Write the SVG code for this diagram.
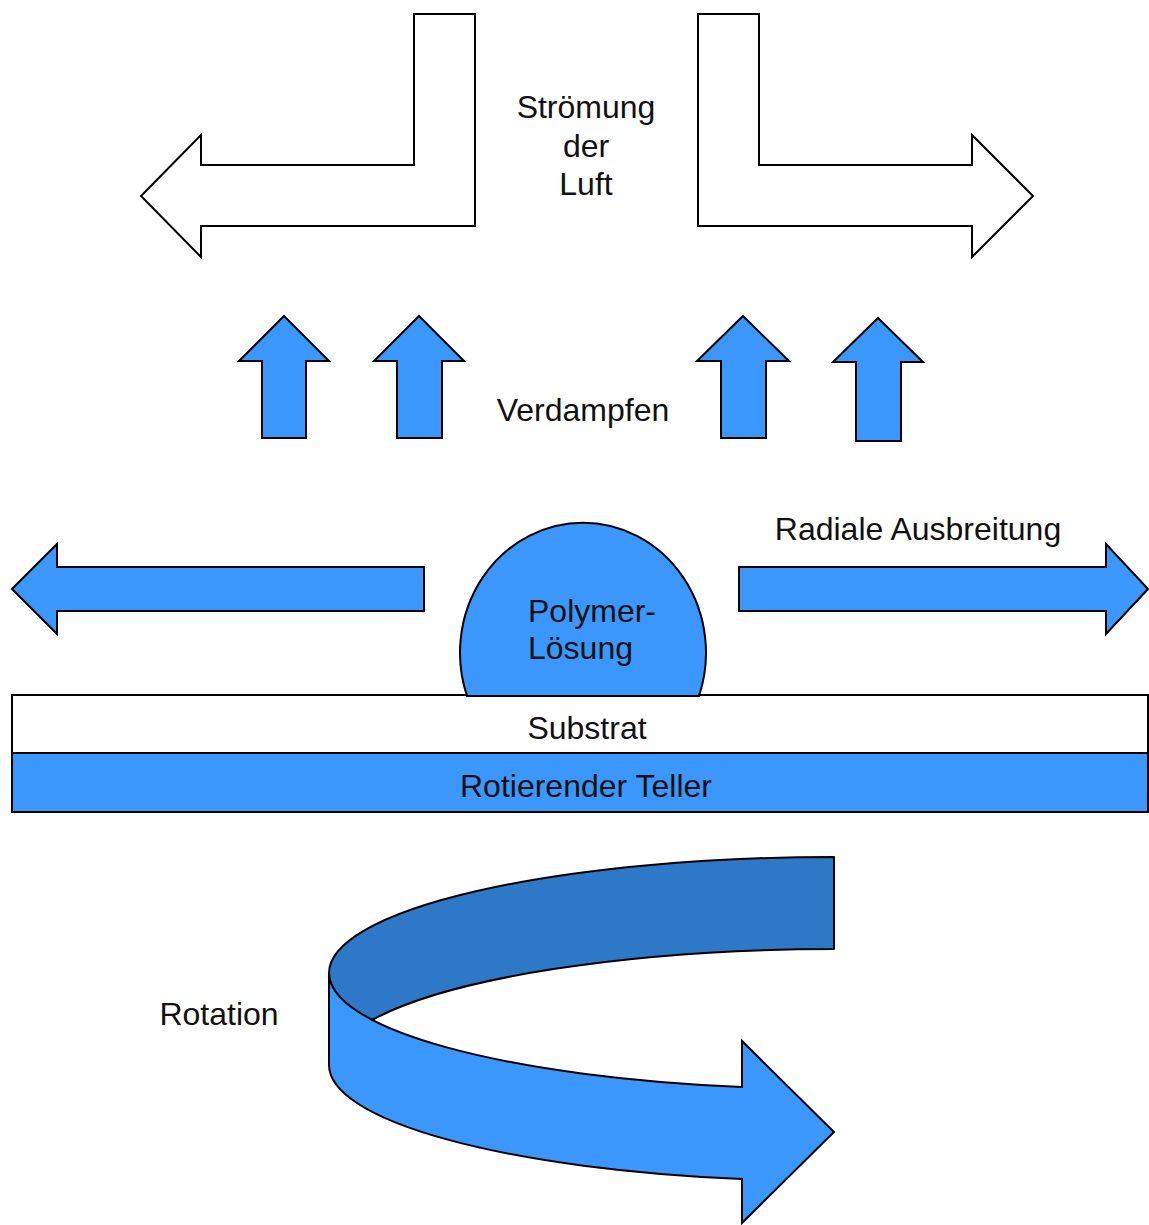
<svg xmlns="http://www.w3.org/2000/svg" width="1149" height="1225" viewBox="0 0 1149 1225">
<style>
.o{fill:#ffffff;stroke:#000;stroke-width:2;stroke-linejoin:miter}
.b{fill:#3B97FC;stroke:#000;stroke-width:2;stroke-linejoin:miter}
.d{fill:#2E78C8;stroke:#000;stroke-width:2;stroke-linejoin:round}
.t{font-family:"Liberation Sans",Arial,sans-serif;font-size:32px;fill:#111}
.m{text-anchor:middle}
</style>
<rect width="1149" height="1225" fill="#ffffff"/>
<g id="connectors">
<g id="air-left"><polygon class="o" points="414,14 475,14 475,226 201,226 201,257 141,196 201,135 201,165 414,165"/></g>
<g id="air-right"><polygon class="o" points="698,14 759,14 759,165 972,165 972,135 1033,196 972,257 972,226 698,226"/></g>
<g id="evap1"><polygon class="b" points="284,316 329,361 306,361 306,438 262,438 262,361 239,361"/></g>
<g id="evap2"><polygon class="b" points="419,316 464,361 442,361 442,438 397,438 397,361 374,361"/></g>
<g id="evap3"><polygon class="b" points="743,316 789,361 766,361 766,438 721,438 721,361 697,361"/></g>
<g id="evap4"><polygon class="b" points="878,318 923,362 901,362 901,441 856,441 856,362 833,362"/></g>
<g id="spread-left"><polygon class="b" points="12,589 57,544 57,567 424,567 424,611 57,611 57,634"/></g>
<g id="spread-right"><polygon class="b" points="1148,589 1106,544 1106,567 739,567 739,611 1106,611 1106,634"/></g>
</g>
<g id="substrat">
<rect class="o" x="12" y="695" width="1136" height="58"/>
<text class="t m" x="587" y="739">Substrat</text>
</g>
<g id="teller">
<rect class="b" x="12" y="753" width="1136" height="59"/>
<text class="t m" x="586" y="797">Rotierender Teller</text>
</g>
<g id="polymer">
<path class="b" d="M467,696 A123 130 0 1 1 699,696 Z"/>
<text class="t" x="528" y="622">Polymer-</text>
<text class="t" x="528" y="659">Lösung</text>
</g>
<g id="rotation-arrow">
<path class="d" d="M834,857 A505 116 0 0 0 329,973 A505 116 0 0 0 372,1020 A505 116 0 0 1 834,949 Z"/>
<path class="b" d="M329,973 A505 116 0 0 0 742,1087 L742,1041 L834,1132 L742,1223 L742,1179 A505 116 0 0 1 329,1065 Z"/>
</g>
<g id="labels">
<text class="t m" x="586" y="118">Strömung</text>
<text class="t m" x="586" y="157">der</text>
<text class="t m" x="586" y="195">Luft</text>
<text class="t m" x="583" y="421">Verdampfen</text>
<text class="t m" x="918" y="540">Radiale Ausbreitung</text>
<text class="t m" x="219" y="1025">Rotation</text>
</g>
</svg>
